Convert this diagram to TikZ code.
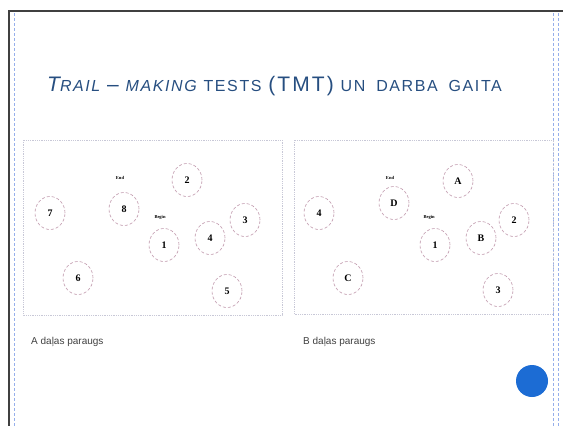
\documentclass[tikz,border=0pt]{standalone}
\usepackage{fontspec}
\setmainfont{Liberation Serif}
\setsansfont{Liberation Sans}
\newfontfamily\titlefont[LetterSpace=10,WordSpace=1.8]{Liberation Sans}
\usetikzlibrary{shapes.geometric}
\definecolor{titleblue}{RGB}{38,78,128}
\definecolor{dotblue}{RGB}{28,108,212}
\definecolor{guide}{RGB}{150,175,235}
\definecolor{ring}{RGB}{190,150,170}
\definecolor{panelline}{RGB}{200,200,215}

\begin{document}
\begin{tikzpicture}[x=1pt,y=-1pt,
  every node/.style={inner sep=0pt},
  ringnode/.style={ellipse,draw=ring,densely dashed,line width=0.6pt,minimum width=30pt,minimum height=33pt,font=\rmfamily\bfseries\fontsize{10}{10}\selectfont},
  tag/.style={font=\rmfamily\bfseries\fontsize{4.5}{5}\selectfont},
  caption/.style={anchor=base west,font=\sffamily\fontsize{10}{12}\selectfont,text=black!75},
  panel/.style={draw=panelline,densely dotted,line width=0.8pt}]

\useasboundingbox (0,0) rectangle (563,426);

% slide frame
\draw[line width=1.6pt,black!75] (9,426) -- (9,11) -- (563,11);
\draw[guide,densely dashed,line width=0.7pt] (14,13) -- (14,426);
\draw[guide,densely dashed,line width=0.7pt] (553,13) -- (553,426);
\draw[guide,densely dashed,line width=0.7pt] (558,13) -- (558,426);

% title
\node[anchor=base west,text=titleblue,font=\titlefont] (title) at (47,91)
  {{\fontsize{21}{22}\selectfont\itshape T}{\fontsize{16}{18}\selectfont\itshape RAIL}\
   {\fontsize{21}{22}\selectfont –}\ {\fontsize{16}{18}\selectfont\itshape MAKING}\
   {\fontsize{16}{18}\selectfont TESTS}\ {\fontsize{21}{22}\selectfont (TMT)}\
   {\fontsize{16}{18}\selectfont UN DARBA GAITA}};

% panel A
\draw[panel] (23,140) rectangle (282,315);
\node[ringnode] (a7) at (50,213) {7};
\node[ringnode] (a8) at (124,209) {8};
\node[tag] (aend) at (120,178) {End};
\node[ringnode] (a2) at (187,180) {2};
\node[tag] (abegin) at (160,217) {Begin};
\node[ringnode] (a1) at (164,245) {1};
\node[ringnode] (a4) at (210,238) {4};
\node[ringnode] (a3) at (245,220) {3};
\node[ringnode] (a6) at (78,278) {6};
\node[ringnode] (a5) at (227,291) {5};

% panel B
\draw[panel] (294,140) rectangle (553,314);
\node[ringnode] (b4) at (319,213) {4};
\node[tag] (bend) at (390,178) {End};
\node[ringnode] (bD) at (394,203) {D};
\node[ringnode] (bA) at (458,181) {A};
\node[tag] (bbegin) at (429,217) {Begin};
\node[ringnode] (b1) at (435,245) {1};
\node[ringnode] (bB) at (481,238) {B};
\node[ringnode] (b2) at (514,220) {2};
\node[ringnode] (bC) at (348,278) {C};
\node[ringnode] (b3) at (498,290) {3};

% captions
\node[caption] (capa) at (31,344) {A daļas paraugs};
\node[caption] (capb) at (303,344) {B daļas paraugs};

% dot
\fill[dotblue] (532,381) circle (16);

\end{tikzpicture}
\end{document}
